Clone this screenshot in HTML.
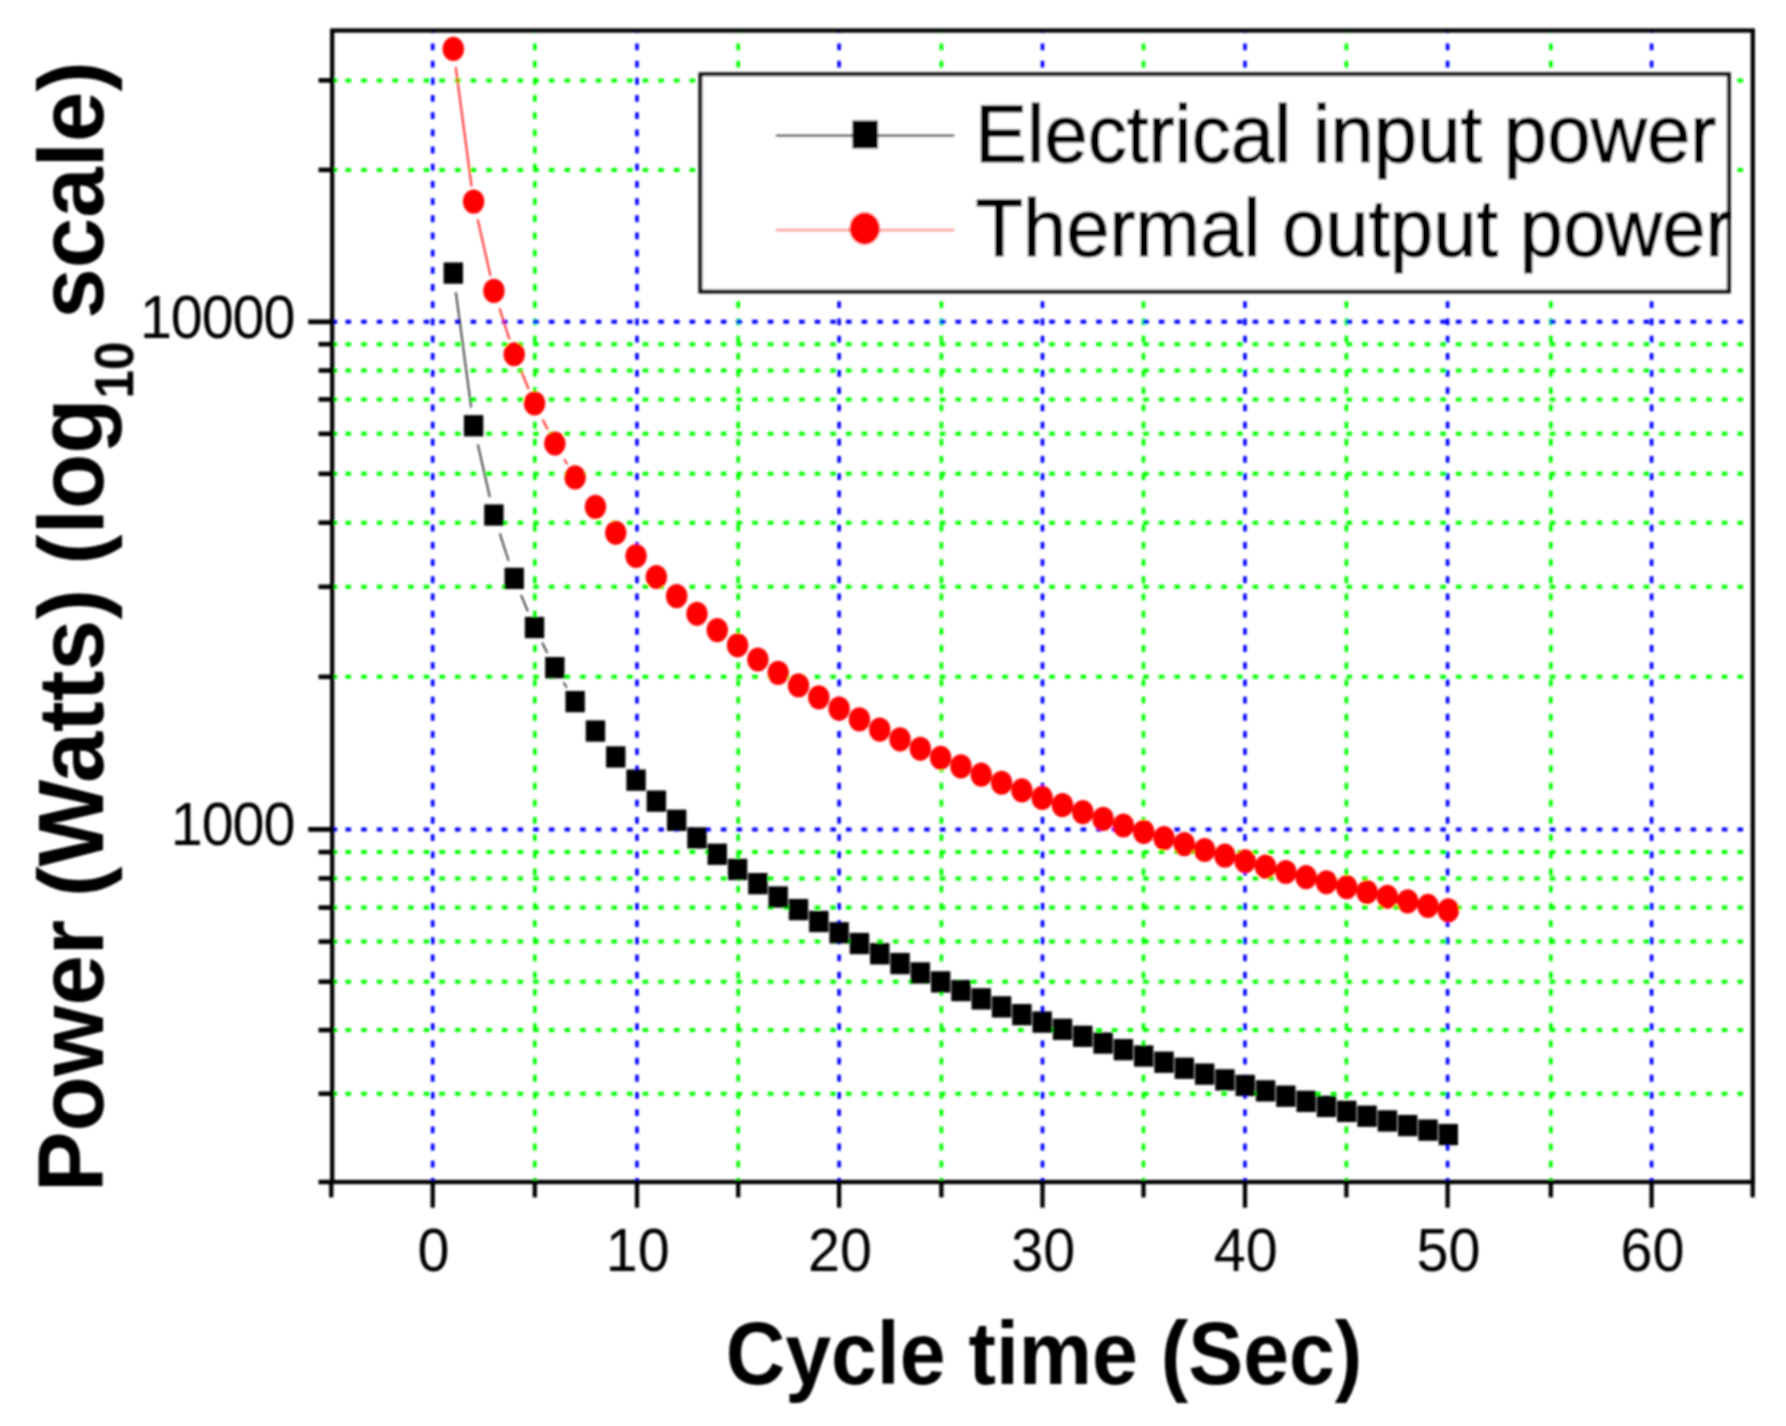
<!DOCTYPE html>
<html lang="en">
<head>
<meta charset="utf-8">
<title>Power vs cycle time</title>
<style>
html,body{margin:0;padding:0;background:#fff;}
body{width:1786px;height:1426px;overflow:hidden;}
svg{display:block;}
</style>
</head>
<body>
<svg width="1786" height="1426" viewBox="0 0 1786 1426" font-family="'Liberation Sans', Arial, Helvetica, sans-serif">
<defs><filter id="soft" x="-2%" y="-2%" width="104%" height="104%"><feGaussianBlur stdDeviation="0.9"/></filter></defs>
<rect x="0" y="0" width="1786" height="1426" fill="#fff"/>
<g filter="url(#soft)">
<g fill="none">
<line x1="432.7" y1="1184.8" x2="432.7" y2="30" stroke="#0000ff" stroke-width="3.6" stroke-dasharray="6.8 10.39"/>
<line x1="534.8" y1="1184.8" x2="534.8" y2="30" stroke="#00ff00" stroke-width="3.6" stroke-dasharray="6.8 10.39"/>
<line x1="637" y1="1184.8" x2="637" y2="30" stroke="#0000ff" stroke-width="3.6" stroke-dasharray="6.8 10.39"/>
<line x1="738.2" y1="1184.8" x2="738.2" y2="30" stroke="#00ff00" stroke-width="3.6" stroke-dasharray="6.8 10.39"/>
<line x1="839.1" y1="1184.8" x2="839.1" y2="30" stroke="#0000ff" stroke-width="3.6" stroke-dasharray="6.8 10.39"/>
<line x1="941.4" y1="1184.8" x2="941.4" y2="30" stroke="#00ff00" stroke-width="3.6" stroke-dasharray="6.8 10.39"/>
<line x1="1042.5" y1="1184.8" x2="1042.5" y2="30" stroke="#0000ff" stroke-width="3.6" stroke-dasharray="6.8 10.39"/>
<line x1="1143.5" y1="1184.8" x2="1143.5" y2="30" stroke="#00ff00" stroke-width="3.6" stroke-dasharray="6.8 10.39"/>
<line x1="1245" y1="1184.8" x2="1245" y2="30" stroke="#0000ff" stroke-width="3.6" stroke-dasharray="6.8 10.39"/>
<line x1="1346.4" y1="1184.8" x2="1346.4" y2="30" stroke="#00ff00" stroke-width="3.6" stroke-dasharray="6.8 10.39"/>
<line x1="1447.6" y1="1184.8" x2="1447.6" y2="30" stroke="#0000ff" stroke-width="3.6" stroke-dasharray="6.8 10.39"/>
<line x1="1550.8" y1="1184.8" x2="1550.8" y2="30" stroke="#00ff00" stroke-width="3.6" stroke-dasharray="6.8 10.39"/>
<line x1="1651.6" y1="1184.8" x2="1651.6" y2="30" stroke="#0000ff" stroke-width="3.6" stroke-dasharray="6.8 10.39"/>
<line x1="345.5" y1="1093.7" x2="1744" y2="1093.7" stroke="#00ff00" stroke-width="4" stroke-dasharray="5.6 10.04"/>
<line x1="345.5" y1="1030.1" x2="1744" y2="1030.1" stroke="#00ff00" stroke-width="4" stroke-dasharray="5.6 10.04"/>
<line x1="345.5" y1="981.7" x2="1744" y2="981.7" stroke="#00ff00" stroke-width="4" stroke-dasharray="5.6 10.04"/>
<line x1="345.5" y1="941.6" x2="1744" y2="941.6" stroke="#00ff00" stroke-width="4" stroke-dasharray="5.6 10.04"/>
<line x1="345.5" y1="907.6" x2="1744" y2="907.6" stroke="#00ff00" stroke-width="4" stroke-dasharray="5.6 10.04"/>
<line x1="345.5" y1="878.4" x2="1744" y2="878.4" stroke="#00ff00" stroke-width="4" stroke-dasharray="5.6 10.04"/>
<line x1="345.5" y1="852.1" x2="1744" y2="852.1" stroke="#00ff00" stroke-width="4" stroke-dasharray="5.6 10.04"/>
<line x1="345.5" y1="676.8" x2="1744" y2="676.8" stroke="#00ff00" stroke-width="4" stroke-dasharray="5.6 10.04"/>
<line x1="345.5" y1="586.8" x2="1744" y2="586.8" stroke="#00ff00" stroke-width="4" stroke-dasharray="5.6 10.04"/>
<line x1="345.5" y1="522.7" x2="1744" y2="522.7" stroke="#00ff00" stroke-width="4" stroke-dasharray="5.6 10.04"/>
<line x1="345.5" y1="473.8" x2="1744" y2="473.8" stroke="#00ff00" stroke-width="4" stroke-dasharray="5.6 10.04"/>
<line x1="345.5" y1="433.8" x2="1744" y2="433.8" stroke="#00ff00" stroke-width="4" stroke-dasharray="5.6 10.04"/>
<line x1="345.5" y1="399.4" x2="1744" y2="399.4" stroke="#00ff00" stroke-width="4" stroke-dasharray="5.6 10.04"/>
<line x1="345.5" y1="370.5" x2="1744" y2="370.5" stroke="#00ff00" stroke-width="4" stroke-dasharray="5.6 10.04"/>
<line x1="345.5" y1="344.2" x2="1744" y2="344.2" stroke="#00ff00" stroke-width="4" stroke-dasharray="5.6 10.04"/>
<line x1="345.5" y1="169.9" x2="1744" y2="169.9" stroke="#00ff00" stroke-width="4" stroke-dasharray="5.6 10.04"/>
<line x1="345.5" y1="80.4" x2="1744" y2="80.4" stroke="#00ff00" stroke-width="4" stroke-dasharray="5.6 10.04"/>
<line x1="345.5" y1="829.4" x2="1744" y2="829.4" stroke="#0000ff" stroke-width="4" stroke-dasharray="5.6 10.04"/>
<line x1="345.5" y1="321.8" x2="1744" y2="321.8" stroke="#0000ff" stroke-width="4" stroke-dasharray="5.6 10.04"/>
<line x1="333.5" y1="1093.7" x2="337.2" y2="1093.7" stroke="#00ff00" stroke-width="4"/>
<line x1="333.5" y1="1030.1" x2="337.2" y2="1030.1" stroke="#00ff00" stroke-width="4"/>
<line x1="333.5" y1="981.7" x2="337.2" y2="981.7" stroke="#00ff00" stroke-width="4"/>
<line x1="333.5" y1="941.6" x2="337.2" y2="941.6" stroke="#00ff00" stroke-width="4"/>
<line x1="333.5" y1="907.6" x2="337.2" y2="907.6" stroke="#00ff00" stroke-width="4"/>
<line x1="333.5" y1="878.4" x2="337.2" y2="878.4" stroke="#00ff00" stroke-width="4"/>
<line x1="333.5" y1="852.1" x2="337.2" y2="852.1" stroke="#00ff00" stroke-width="4"/>
<line x1="333.5" y1="676.8" x2="337.2" y2="676.8" stroke="#00ff00" stroke-width="4"/>
<line x1="333.5" y1="586.8" x2="337.2" y2="586.8" stroke="#00ff00" stroke-width="4"/>
<line x1="333.5" y1="522.7" x2="337.2" y2="522.7" stroke="#00ff00" stroke-width="4"/>
<line x1="333.5" y1="473.8" x2="337.2" y2="473.8" stroke="#00ff00" stroke-width="4"/>
<line x1="333.5" y1="433.8" x2="337.2" y2="433.8" stroke="#00ff00" stroke-width="4"/>
<line x1="333.5" y1="399.4" x2="337.2" y2="399.4" stroke="#00ff00" stroke-width="4"/>
<line x1="333.5" y1="370.5" x2="337.2" y2="370.5" stroke="#00ff00" stroke-width="4"/>
<line x1="333.5" y1="344.2" x2="337.2" y2="344.2" stroke="#00ff00" stroke-width="4"/>
<line x1="333.5" y1="169.9" x2="337.2" y2="169.9" stroke="#00ff00" stroke-width="4"/>
<line x1="333.5" y1="80.4" x2="337.2" y2="80.4" stroke="#00ff00" stroke-width="4"/>
<line x1="333.5" y1="829.4" x2="337.2" y2="829.4" stroke="#0000ff" stroke-width="4"/>
<line x1="333.5" y1="321.8" x2="337.2" y2="321.8" stroke="#0000ff" stroke-width="4"/>
</g>
<line x1="455.84" y1="292.16" x2="471.19" y2="407.52" stroke="#111" stroke-width="1.5"/>
<line x1="477.87" y1="444.48" x2="489.84" y2="497.1" stroke="#111" stroke-width="1.5"/>
<line x1="499.78" y1="533.33" x2="508.61" y2="560.87" stroke="#111" stroke-width="1.5"/>
<line x1="521.1" y1="595.03" x2="527.85" y2="611.36" stroke="#111" stroke-width="1.5"/>
<line x1="542.2" y1="642.7" x2="547.43" y2="653.04" stroke="#111" stroke-width="1.5"/>
<line x1="563.56" y1="682.27" x2="566.72" y2="687.55" stroke="#111" stroke-width="1.5"/>
<g fill="#000">
<rect x="443.61" y="262.47" width="19.4" height="21.3"/>
<rect x="463.91" y="415.11" width="19.4" height="21.3"/>
<rect x="484.22" y="504.39" width="19.4" height="21.3"/>
<rect x="504.52" y="567.74" width="19.4" height="21.3"/>
<rect x="524.83" y="616.88" width="19.4" height="21.3"/>
<rect x="545.14" y="657.03" width="19.4" height="21.3"/>
<rect x="565.44" y="690.97" width="19.4" height="21.3"/>
<rect x="585.75" y="720.38" width="19.4" height="21.3"/>
<rect x="606.05" y="746.31" width="19.4" height="21.3"/>
<rect x="626.36" y="769.51" width="19.4" height="21.3"/>
<rect x="646.67" y="790.5" width="19.4" height="21.3"/>
<rect x="666.97" y="809.66" width="19.4" height="21.3"/>
<rect x="687.28" y="827.29" width="19.4" height="21.3"/>
<rect x="707.58" y="843.61" width="19.4" height="21.3"/>
<rect x="727.89" y="858.8" width="19.4" height="21.3"/>
<rect x="748.2" y="873.01" width="19.4" height="21.3"/>
<rect x="768.5" y="886.36" width="19.4" height="21.3"/>
<rect x="788.81" y="898.95" width="19.4" height="21.3"/>
<rect x="809.11" y="910.85" width="19.4" height="21.3"/>
<rect x="829.42" y="922.15" width="19.4" height="21.3"/>
<rect x="849.73" y="932.89" width="19.4" height="21.3"/>
<rect x="870.03" y="943.13" width="19.4" height="21.3"/>
<rect x="890.34" y="952.92" width="19.4" height="21.3"/>
<rect x="910.64" y="962.3" width="19.4" height="21.3"/>
<rect x="930.95" y="971.28" width="19.4" height="21.3"/>
<rect x="951.26" y="979.92" width="19.4" height="21.3"/>
<rect x="971.56" y="988.23" width="19.4" height="21.3"/>
<rect x="991.87" y="996.24" width="19.4" height="21.3"/>
<rect x="1012.17" y="1003.97" width="19.4" height="21.3"/>
<rect x="1032.48" y="1011.43" width="19.4" height="21.3"/>
<rect x="1052.79" y="1018.65" width="19.4" height="21.3"/>
<rect x="1073.09" y="1025.64" width="19.4" height="21.3"/>
<rect x="1093.4" y="1032.42" width="19.4" height="21.3"/>
<rect x="1113.7" y="1038.99" width="19.4" height="21.3"/>
<rect x="1134.01" y="1045.38" width="19.4" height="21.3"/>
<rect x="1154.32" y="1051.58" width="19.4" height="21.3"/>
<rect x="1174.62" y="1057.61" width="19.4" height="21.3"/>
<rect x="1194.93" y="1063.49" width="19.4" height="21.3"/>
<rect x="1215.23" y="1069.21" width="19.4" height="21.3"/>
<rect x="1235.54" y="1074.78" width="19.4" height="21.3"/>
<rect x="1255.85" y="1080.22" width="19.4" height="21.3"/>
<rect x="1276.15" y="1085.53" width="19.4" height="21.3"/>
<rect x="1296.46" y="1090.71" width="19.4" height="21.3"/>
<rect x="1316.76" y="1095.77" width="19.4" height="21.3"/>
<rect x="1337.07" y="1100.72" width="19.4" height="21.3"/>
<rect x="1357.38" y="1105.56" width="19.4" height="21.3"/>
<rect x="1377.68" y="1110.29" width="19.4" height="21.3"/>
<rect x="1397.99" y="1114.93" width="19.4" height="21.3"/>
<rect x="1418.29" y="1119.47" width="19.4" height="21.3"/>
<rect x="1438.6" y="1123.92" width="19.4" height="21.3"/>
</g>
<line x1="455.71" y1="67.01" x2="471.58" y2="186.33" stroke="#ff1c1c" stroke-width="1.8"/>
<line x1="477.65" y1="219.35" x2="490.5" y2="275.87" stroke="#ff1c1c" stroke-width="1.8"/>
<line x1="499.47" y1="308.22" x2="509.52" y2="339.57" stroke="#ff1c1c" stroke-width="1.8"/>
<line x1="521.18" y1="371.05" x2="528.65" y2="389.14" stroke="#ff1c1c" stroke-width="1.8"/>
<line x1="542.74" y1="419.61" x2="547.89" y2="429.78" stroke="#ff1c1c" stroke-width="1.8"/>
<line x1="564.18" y1="459.14" x2="567.24" y2="464.25" stroke="#ff1c1c" stroke-width="1.8"/>
<g fill="#ff0000">
<ellipse cx="453.31" cy="48.96" rx="10.7" ry="12.1"/>
<ellipse cx="473.61" cy="201.6" rx="10.7" ry="12.1"/>
<ellipse cx="493.92" cy="290.88" rx="10.7" ry="12.1"/>
<ellipse cx="514.22" cy="354.23" rx="10.7" ry="12.1"/>
<ellipse cx="534.53" cy="403.37" rx="10.7" ry="12.1"/>
<ellipse cx="554.84" cy="443.52" rx="10.7" ry="12.1"/>
<ellipse cx="575.14" cy="477.46" rx="10.7" ry="12.1"/>
<ellipse cx="595.45" cy="506.87" rx="10.7" ry="12.1"/>
<ellipse cx="615.75" cy="532.8" rx="10.7" ry="12.1"/>
<ellipse cx="636.06" cy="556" rx="10.7" ry="12.1"/>
<ellipse cx="656.37" cy="576.99" rx="10.7" ry="12.1"/>
<ellipse cx="676.67" cy="596.15" rx="10.7" ry="12.1"/>
<ellipse cx="696.98" cy="613.78" rx="10.7" ry="12.1"/>
<ellipse cx="717.28" cy="630.1" rx="10.7" ry="12.1"/>
<ellipse cx="737.59" cy="645.29" rx="10.7" ry="12.1"/>
<ellipse cx="757.9" cy="659.5" rx="10.7" ry="12.1"/>
<ellipse cx="778.2" cy="672.85" rx="10.7" ry="12.1"/>
<ellipse cx="798.51" cy="685.44" rx="10.7" ry="12.1"/>
<ellipse cx="818.81" cy="697.34" rx="10.7" ry="12.1"/>
<ellipse cx="839.12" cy="708.64" rx="10.7" ry="12.1"/>
<ellipse cx="859.43" cy="719.38" rx="10.7" ry="12.1"/>
<ellipse cx="879.73" cy="729.63" rx="10.7" ry="12.1"/>
<ellipse cx="900.04" cy="739.41" rx="10.7" ry="12.1"/>
<ellipse cx="920.34" cy="748.79" rx="10.7" ry="12.1"/>
<ellipse cx="940.65" cy="757.78" rx="10.7" ry="12.1"/>
<ellipse cx="960.96" cy="766.41" rx="10.7" ry="12.1"/>
<ellipse cx="981.26" cy="774.72" rx="10.7" ry="12.1"/>
<ellipse cx="1001.57" cy="782.73" rx="10.7" ry="12.1"/>
<ellipse cx="1021.87" cy="790.46" rx="10.7" ry="12.1"/>
<ellipse cx="1042.18" cy="797.92" rx="10.7" ry="12.1"/>
<ellipse cx="1062.49" cy="805.14" rx="10.7" ry="12.1"/>
<ellipse cx="1082.79" cy="812.14" rx="10.7" ry="12.1"/>
<ellipse cx="1103.1" cy="818.91" rx="10.7" ry="12.1"/>
<ellipse cx="1123.4" cy="825.49" rx="10.7" ry="12.1"/>
<ellipse cx="1143.71" cy="831.87" rx="10.7" ry="12.1"/>
<ellipse cx="1164.02" cy="838.07" rx="10.7" ry="12.1"/>
<ellipse cx="1184.32" cy="844.11" rx="10.7" ry="12.1"/>
<ellipse cx="1204.63" cy="849.98" rx="10.7" ry="12.1"/>
<ellipse cx="1224.93" cy="855.7" rx="10.7" ry="12.1"/>
<ellipse cx="1245.24" cy="861.27" rx="10.7" ry="12.1"/>
<ellipse cx="1265.55" cy="866.71" rx="10.7" ry="12.1"/>
<ellipse cx="1285.85" cy="872.02" rx="10.7" ry="12.1"/>
<ellipse cx="1306.16" cy="877.2" rx="10.7" ry="12.1"/>
<ellipse cx="1326.46" cy="882.26" rx="10.7" ry="12.1"/>
<ellipse cx="1346.77" cy="887.21" rx="10.7" ry="12.1"/>
<ellipse cx="1367.08" cy="892.05" rx="10.7" ry="12.1"/>
<ellipse cx="1387.38" cy="896.78" rx="10.7" ry="12.1"/>
<ellipse cx="1407.69" cy="901.42" rx="10.7" ry="12.1"/>
<ellipse cx="1427.99" cy="905.96" rx="10.7" ry="12.1"/>
<ellipse cx="1448.3" cy="910.41" rx="10.7" ry="12.1"/>
</g>
<g stroke="#000" fill="none" stroke-linecap="butt">
<rect x="332.2" y="30.5" width="1420.6" height="1151.5" stroke-width="4.3"/>
<line x1="331.27" y1="1182" x2="331.27" y2="1197.4" stroke-width="4.3"/>
<line x1="432.7" y1="1182" x2="432.7" y2="1207.7" stroke-width="4.3"/>
<line x1="534.8" y1="1182" x2="534.8" y2="1197.4" stroke-width="4.3"/>
<line x1="637" y1="1182" x2="637" y2="1207.7" stroke-width="4.3"/>
<line x1="738.2" y1="1182" x2="738.2" y2="1197.4" stroke-width="4.3"/>
<line x1="839.1" y1="1182" x2="839.1" y2="1207.7" stroke-width="4.3"/>
<line x1="941.4" y1="1182" x2="941.4" y2="1197.4" stroke-width="4.3"/>
<line x1="1042.5" y1="1182" x2="1042.5" y2="1207.7" stroke-width="4.3"/>
<line x1="1143.5" y1="1182" x2="1143.5" y2="1197.4" stroke-width="4.3"/>
<line x1="1245" y1="1182" x2="1245" y2="1207.7" stroke-width="4.3"/>
<line x1="1346.4" y1="1182" x2="1346.4" y2="1197.4" stroke-width="4.3"/>
<line x1="1447.6" y1="1182" x2="1447.6" y2="1207.7" stroke-width="4.3"/>
<line x1="1550.8" y1="1182" x2="1550.8" y2="1197.4" stroke-width="4.3"/>
<line x1="1651.6" y1="1182" x2="1651.6" y2="1207.7" stroke-width="4.3"/>
<line x1="1752.69" y1="1182" x2="1752.69" y2="1197.4" stroke-width="4.3"/>
<line x1="308.2" y1="829.4" x2="332.2" y2="829.4" stroke-width="4.8"/>
<line x1="308.2" y1="321.8" x2="332.2" y2="321.8" stroke-width="4.8"/>
<line x1="318.5" y1="1093.7" x2="332.2" y2="1093.7" stroke-width="4.6"/>
<line x1="318.5" y1="1030.1" x2="332.2" y2="1030.1" stroke-width="4.6"/>
<line x1="318.5" y1="981.7" x2="332.2" y2="981.7" stroke-width="4.6"/>
<line x1="318.5" y1="941.6" x2="332.2" y2="941.6" stroke-width="4.6"/>
<line x1="318.5" y1="907.6" x2="332.2" y2="907.6" stroke-width="4.6"/>
<line x1="318.5" y1="878.4" x2="332.2" y2="878.4" stroke-width="4.6"/>
<line x1="318.5" y1="852.1" x2="332.2" y2="852.1" stroke-width="4.6"/>
<line x1="318.5" y1="676.8" x2="332.2" y2="676.8" stroke-width="4.6"/>
<line x1="318.5" y1="586.8" x2="332.2" y2="586.8" stroke-width="4.6"/>
<line x1="318.5" y1="522.7" x2="332.2" y2="522.7" stroke-width="4.6"/>
<line x1="318.5" y1="473.8" x2="332.2" y2="473.8" stroke-width="4.6"/>
<line x1="318.5" y1="433.8" x2="332.2" y2="433.8" stroke-width="4.6"/>
<line x1="318.5" y1="399.4" x2="332.2" y2="399.4" stroke-width="4.6"/>
<line x1="318.5" y1="370.5" x2="332.2" y2="370.5" stroke-width="4.6"/>
<line x1="318.5" y1="344.2" x2="332.2" y2="344.2" stroke-width="4.6"/>
<line x1="318.5" y1="169.9" x2="332.2" y2="169.9" stroke-width="4.6"/>
<line x1="318.5" y1="80.4" x2="332.2" y2="80.4" stroke-width="4.6"/>
<line x1="318.5" y1="1182" x2="332.2" y2="1182" stroke-width="4.6"/>
</g>
<g fill="#000" font-size="57.5">
<text transform="translate(433.5 1271) scale(1 1.07)" text-anchor="middle">0</text>
<text transform="translate(637.8 1271) scale(1 1.07)" text-anchor="middle">10</text>
<text transform="translate(839.9 1271) scale(1 1.07)" text-anchor="middle">20</text>
<text transform="translate(1043.3 1271) scale(1 1.07)" text-anchor="middle">30</text>
<text transform="translate(1245.8 1271) scale(1 1.07)" text-anchor="middle">40</text>
<text transform="translate(1448.4 1271) scale(1 1.07)" text-anchor="middle">50</text>
<text transform="translate(1652.4 1271) scale(1 1.07)" text-anchor="middle">60</text>
<text transform="translate(294.3 845.2) scale(1 1.07)" text-anchor="end" letter-spacing="-1.1">1000</text>
<text transform="translate(294.3 337.6) scale(1 1.07)" text-anchor="end" letter-spacing="-1.1">10000</text>
</g>
<text transform="translate(1044 1384) scale(1 1.07)" text-anchor="middle" font-weight="bold" font-size="82.4" fill="#000">Cycle time (Sec)</text>
<text transform="translate(102.6 1192) rotate(-90) scale(1.0076 1.03)" font-weight="bold" font-size="90" fill="#000">Power</text>
<text transform="translate(102.6 897) rotate(-90) scale(1.0215 1.03)" font-weight="bold" font-size="90" fill="#000">(Watts)</text>
<text transform="translate(102.6 564.5) rotate(-90) scale(1.0078 1.03)" font-weight="bold" font-size="90" fill="#000">(log</text>
<text transform="translate(133.6 398.6) rotate(-90) scale(0.9700 1.05)" font-weight="bold" font-size="53" fill="#000">10</text>
<text transform="translate(102.6 318.7) rotate(-90) scale(1.0085 1.03)" font-weight="bold" font-size="90" fill="#000">scale)</text>
<rect x="700.4" y="74.3" width="1028.4" height="217.2" fill="#fff" stroke="#111" stroke-width="4"/>
<line x1="775.8" y1="135.7" x2="954.3" y2="135.7" stroke="#3a3a3a" stroke-width="2.2"/>
<rect x="852.35" y="120.5" width="25.7" height="28" fill="#000"/>
<line x1="775.8" y1="230.2" x2="954.3" y2="230.2" stroke="#ff9c9c" stroke-width="2.8"/>
<ellipse cx="864.7" cy="228.5" rx="15.2" ry="16.3" fill="#ff0000"/>
<g fill="#000" stroke="#000" stroke-width="1.1" font-size="78">
<text transform="translate(975 162) scale(1 1.05)">Electrical input power</text>
<text transform="translate(975.6 256) scale(1 1.05)" font-size="77.7">Thermal output power</text>
</g>
</g>
</svg>
</body>
</html>
